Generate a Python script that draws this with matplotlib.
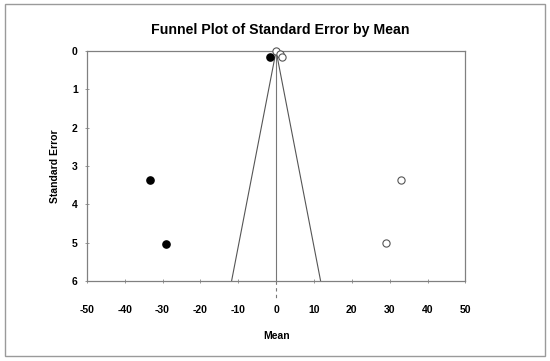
import matplotlib
matplotlib.use("Agg")
import matplotlib.pyplot as plt
from matplotlib.patches import Rectangle
import numpy as np

plt.rcParams['font.family'] = ['Liberation Sans', 'DejaVu Sans']

# Data
observed_mean = [0.0, 0.9, 1.5, 33.1, 28.9]
observed_se = [0.0, 0.08, 0.16, 3.37, 5.02]
imputed_mean = [-1.6, -33.2, -29.0]
imputed_se = [0.15, 3.37, 5.03]
funnel_center = 0.0
funnel_se = [0.0, 6.0]
z = 1.96
x_ticks = [-50, -40, -30, -20, -10, 0, 10, 20, 30, 40, 50]
y_ticks = [0, 1, 2, 3, 4, 5, 6]

fig = plt.figure(figsize=(5.5, 3.61), dpi=100)
ax = fig.add_axes([86.8/550, 1-281/361, (465.4-86.8)/550, (281-51)/361])

# outer border
fig.patches.append(Rectangle((5/550, 1-356/361), 540/550, 352/361,
                             transform=fig.transFigure, fill=False,
                             edgecolor='#9a9a9a', linewidth=1.0))

# funnel
se = np.array(funnel_se)
ax.plot(funnel_center - z*se, se, color='#555555', lw=0.8, zorder=2)
ax.plot(funnel_center + z*se, se, color='#555555', lw=0.8, zorder=2)
ax.plot([funnel_center, funnel_center], [0, 6], color='#777777', lw=0.8, zorder=2)
ax.plot([funnel_center, funnel_center], [6, 6.5], color='#777777', lw=0.8,
        linestyle=(0, (3, 3)), clip_on=False, zorder=2)

ax.plot(observed_mean, observed_se, 'o', markerfacecolor='white',
        markeredgecolor='#555555', markeredgewidth=0.8, markersize=5.2,
        linestyle='none', clip_on=False, zorder=3)
ax.plot(imputed_mean, imputed_se, 'o', color='black', markersize=5.2,
        linestyle='none', clip_on=False, zorder=4)

ax.set_xlim(-50, 50)
ax.set_ylim(6, 0)
ax.set_xticks(x_ticks)
ax.set_yticks(y_ticks)
ax.set_xticklabels([str(t) for t in x_ticks], fontweight='bold', fontsize=7.5)
ax.set_yticklabels([str(t) for t in y_ticks], fontweight='bold', fontsize=7.5)
ax.tick_params(axis='x', direction='inout', length=3, width=0.6, color='#888888', pad=16)
ax.tick_params(axis='y', direction='inout', length=3, width=0.6, color='#888888', pad=5)

for s in ax.spines.values():
    s.set_color('#808080')
    s.set_linewidth(0.9)

ax.set_xlabel('Mean', fontweight='bold', fontsize=7.5)
ax.xaxis.set_label_coords(0.5, (281-331)/230)
ax.set_ylabel('Standard Error', fontweight='bold', fontsize=7.5)
ax.yaxis.set_label_coords((60-86.8)/378.6, 0.5)

fig.text(280/550, 1-30/361, 'Funnel Plot of Standard Error by Mean',
         ha='center', va='center', fontsize=10.2, fontweight='bold')

fig.savefig('out.png', dpi=100)
